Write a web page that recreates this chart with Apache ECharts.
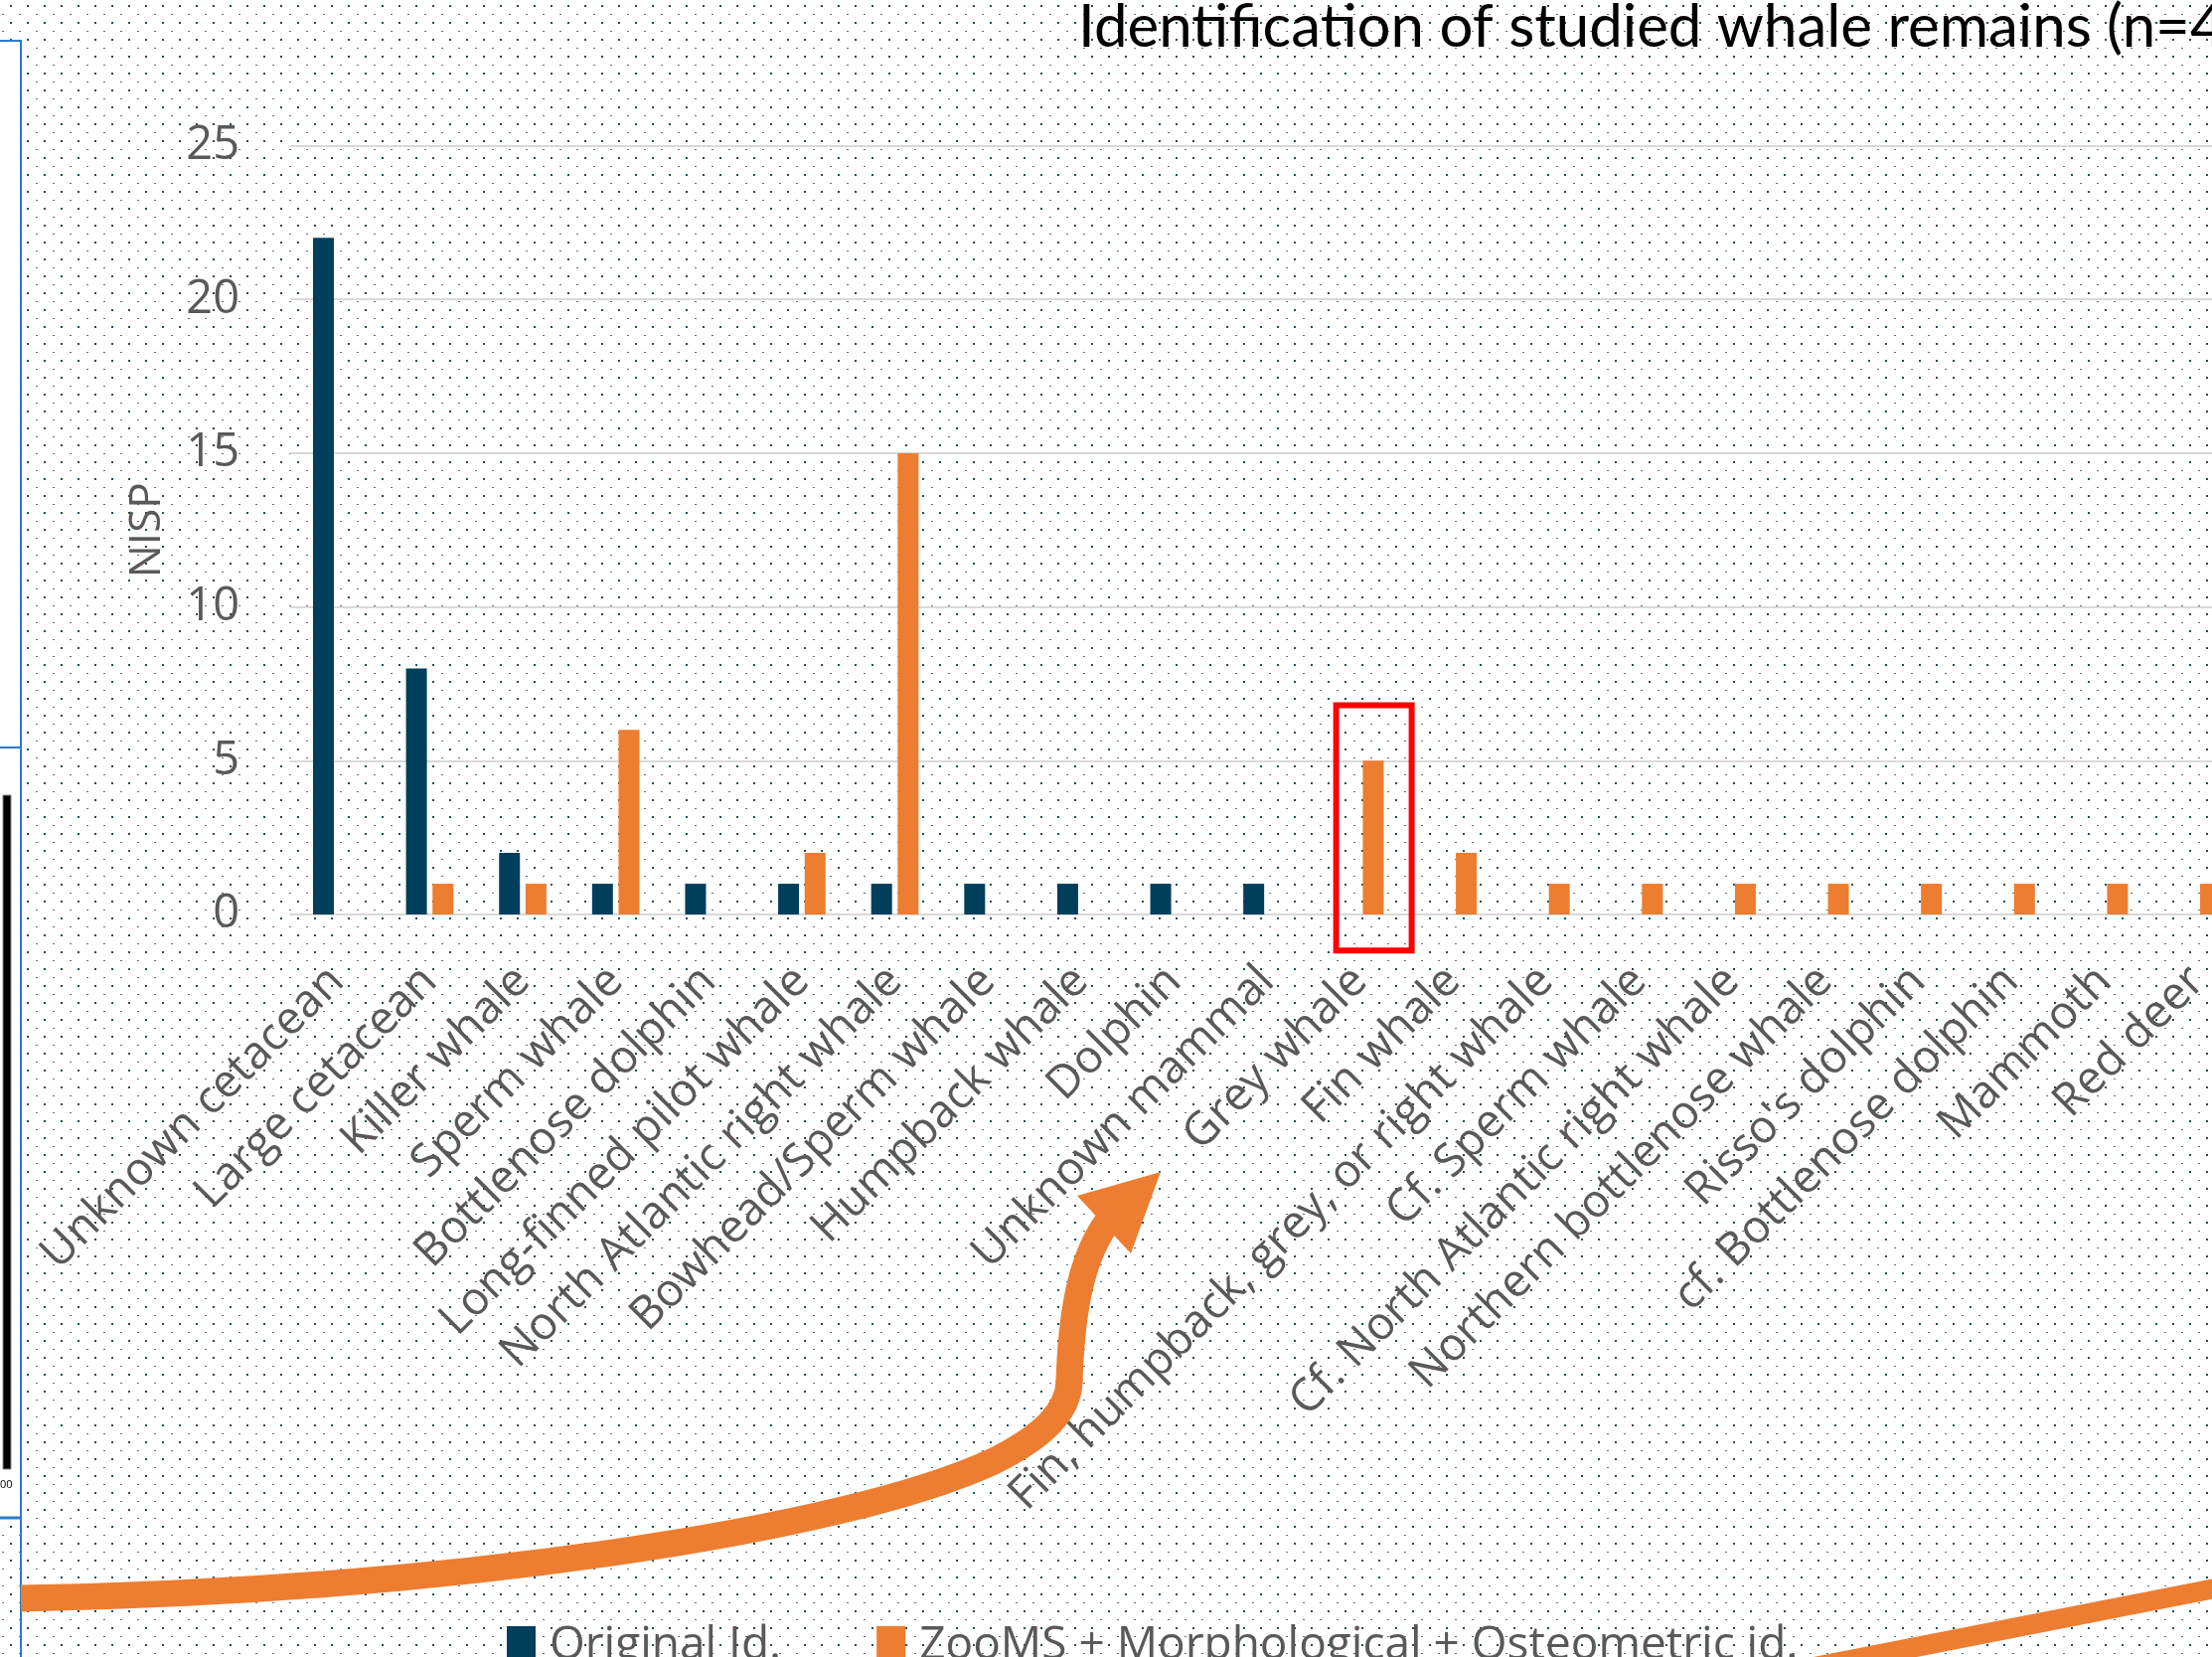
<!DOCTYPE html>
<html>
<head>
<meta charset="utf-8">
<title>Identification of studied whale remains</title>
<script src="https://cdn.jsdelivr.net/npm/echarts/dist/echarts.min.js"></script>
<style>
  html, body { margin: 0; padding: 0; background: #fff; overflow: hidden; }
  /* the figure is cropped on the right, so the canvas runs past the window */
  #chart { width: 2258px; height: 1667px; }
</style>
</head>
<body>
<div id="chart"></div>
<script>
const categories = [
  'Unknown cetacean', 'Large cetacean', 'Killer whale', 'Sperm whale',
  'Bottlenose dolphin', 'Long-finned pilot whale', 'North Atlantic right whale',
  'Bowhead/Sperm whale', 'Humpback whale', 'Dolphin', 'Unknown mammal',
  'Grey whale', 'Fin whale', 'Fin, humpback, grey, or right whale',
  'Cf. Sperm whale', 'Cf. North Atlantic right whale', 'Northern bottlenose whale',
  "Risso's dolphin", 'cf. Bottlenose dolphin', 'Mammoth', 'Red deer'
]
const originalId = [22, 8, 2, 1, 1, 1, 1, 1, 1, 1, 1, null, null, null, null, null, null, null, null, null, null]
const zoomsId = [null, 1, 1, 6, null, 2, 15, null, null, null, null, 5, 2, 1, 1, 1, 1, 1, 1, 1, 1]
const yTicks = { min: 0, max: 25, step: 5 }
const seriesNames = ['Original Id.', 'ZooMS + Morphological + Osteometric id.']
const highlighted = 'Grey whale'

const DARK = '#003F5C'
const ORANGE = '#ED7D31'
const TEXT = '#595959'
const FONT = '"Open Sans", "Noto Sans", sans-serif'

// dotted paper background tile
const tile = document.createElement('canvas')
tile.width = 17
tile.height = 17
const tctx = tile.getContext('2d')
tctx.fillStyle = '#1f4d5f'
tctx.fillRect(10, 5, 2, 2)
tctx.fillStyle = '#4f7587'
tctx.fillRect(2, 14, 2, 1)

const chart = echarts.init(document.getElementById('chart'))

const option = {
  backgroundColor: '#fff',
  animation: false,
  title: {
    text: 'Identification of studied whale remains (n=40)',
    left: 1080,
    top: -7,
    textStyle: {
      fontFamily: 'Lato, "Open Sans", sans-serif',
      fontWeight: 'normal',
      fontSize: 60,
      color: '#000'
    }
  },
  legend: {
    data: seriesNames,
    left: 505,
    top: 1628,
    icon: 'rect',
    itemWidth: 29,
    itemHeight: 40,
    itemGap: 96,
    textStyle: {
      fontFamily: FONT,
      fontSize: 46,
      color: TEXT,
      padding: [0, 0, 0, 9]
    }
  },
  grid: {
    left: 292,
    right: 0,
    top: 146.5,
    bottom: 747,
    containLabel: false
  },
  xAxis: {
    type: 'category',
    data: categories,
    axisTick: { show: false },
    axisLine: { show: true, lineStyle: { color: '#D9D9D9', width: 2 } },
    axisLabel: {
      interval: 0,
      rotate: 45,
      margin: 60,
      fontFamily: FONT,
      fontSize: 46,
      color: TEXT
    }
  },
  yAxis: {
    type: 'value',
    min: yTicks.min,
    max: yTicks.max,
    interval: yTicks.step,
    name: 'NISP',
    nameLocation: 'middle',
    nameGap: 122,
    nameTextStyle: { fontFamily: FONT, fontSize: 44, color: TEXT },
    axisLine: { show: false },
    axisTick: { show: false },
    splitLine: { lineStyle: { color: '#D9D9D9', width: 2 } },
    axisLabel: { margin: 51, fontFamily: FONT, fontSize: 47, color: TEXT }
  },
  series: [
    {
      name: seriesNames[0],
      type: 'bar',
      data: originalId,
      barWidth: 21,
      barGap: '27%',
      itemStyle: { color: DARK }
    },
    {
      name: seriesNames[1],
      type: 'bar',
      data: zoomsId,
      barWidth: 21,
      barGap: '27%',
      itemStyle: { color: ORANGE }
    }
  ]
}

chart.setOption(option)

// red box round the highlighted bar, placed from the axis scales
const [cx] = chart.convertToPixel({ gridIndex: 0 }, [highlighted, 0])
const [, boxTop] = chart.convertToPixel({ gridIndex: 0 }, [highlighted, 6.8])
const [, boxBottom] = chart.convertToPixel({ gridIndex: 0 }, [highlighted, -1.17])
const boxCenter = cx + 14

const arrowStyle = { fill: null, stroke: ORANGE, lineWidth: 27 }

chart.setOption({
  graphic: {
    elements: [
      {
        type: 'rect',
        z: -10,
        silent: true,
        shape: { x: 0, y: 0, width: 2258, height: 1667 },
        style: { fill: { image: tile, repeat: 'repeat' } }
      },
      // bits of the neighbouring panel on the left edge
      {
        type: 'rect',
        z: -5,
        silent: true,
        shape: { x: 0, y: 41, width: 21, height: 1486 },
        style: { fill: '#fff' }
      },
      {
        type: 'polyline',
        z: 50,
        silent: true,
        shape: { points: [[0, 41], [21, 41], [21, 1667]] },
        style: { stroke: '#2b7bc9', lineWidth: 2, fill: null }
      },
      {
        type: 'line',
        z: 50,
        silent: true,
        shape: { x1: 0, y1: 752, x2: 21, y2: 752 },
        style: { stroke: '#2b7bc9', lineWidth: 2 }
      },
      {
        type: 'line',
        z: 50,
        silent: true,
        shape: { x1: 0, y1: 1527, x2: 21, y2: 1527 },
        style: { stroke: '#2b7bc9', lineWidth: 3 }
      },
      {
        type: 'rect',
        z: 50,
        silent: true,
        shape: { x: 3, y: 800, width: 8, height: 678 },
        style: { fill: '#000', stroke: '#888', lineWidth: 1 }
      },
      {
        type: 'text',
        z: 50,
        silent: true,
        x: 0,
        y: 1488,
        style: { text: '00', fontSize: 11, fontFamily: FONT, fill: '#000' }
      },
      // highlight box
      {
        type: 'rect',
        z: 60,
        silent: true,
        shape: { x: boxCenter - 38, y: boxTop, width: 76, height: boxBottom - boxTop },
        style: { fill: null, stroke: '#FF0000', lineWidth: 6 }
      },
      // curved arrow, three pieces
      {
        type: 'bezierCurve',
        z: 80,
        silent: true,
        shape: { x1: 21, y1: 1608, cpx1: 450, cpy1: 1600, cpx2: 850, cpy2: 1540, x2: 1000, y2: 1470 },
        style: Object.assign({ lineCap: 'butt' }, arrowStyle)
      },
      {
        type: 'bezierCurve',
        z: 80,
        silent: true,
        shape: { x1: 1000, y1: 1470, cpx1: 1050, cpy1: 1445, cpx2: 1075, cpy2: 1420, x2: 1076, y2: 1390 },
        style: Object.assign({ lineCap: 'round' }, arrowStyle)
      },
      {
        type: 'bezierCurve',
        z: 80,
        silent: true,
        shape: { x1: 1076, y1: 1390, cpx1: 1078, cpy1: 1330, cpx2: 1085, cpy2: 1270, x2: 1114, y2: 1230 },
        style: Object.assign({ lineCap: 'round' }, arrowStyle)
      },
      {
        type: 'polygon',
        z: 80,
        silent: true,
        shape: { points: [[1168, 1179], [1084, 1203], [1138, 1261]] },
        style: { fill: ORANGE }
      },
      // second arrow leaving the bottom right
      {
        type: 'line',
        z: 80,
        silent: true,
        shape: { x1: 1790, y1: 1684, x2: 2260, y2: 1592 },
        style: { stroke: ORANGE, lineWidth: 20 }
      }
    ]
  }
})

window.addEventListener('resize', () => chart.resize())
</script>
</body>
</html>
